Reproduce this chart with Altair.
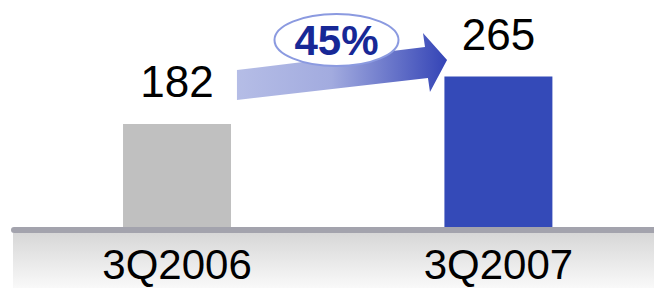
import altair as alt
import pandas as pd

# ---- data ----
categories = ["3Q2006", "3Q2007"]
values = [182, 265]
bar_colors = ["#c0c0c0", "#344ab8"]
growth_label = ["45%"]

df = pd.DataFrame({"quarter": categories, "value": values, "color": bar_colors})
growth_df = pd.DataFrame({"label": growth_label})
one = pd.DataFrame({"k": [0]})

W, H = 646, 280
FONT = "Liberation Sans"

x_scale = alt.Scale(domain=categories, paddingInner=0.664, paddingOuter=0.337, align=0.531)
y_scale = alt.Scale(domain=[-105, 385], nice=False, zero=False)

# gray gradient floor band
band = alt.Chart(one).mark_rect(
    color=alt.LinearGradient(
        gradient="linear",
        stops=[alt.GradientStop(color="#d7d7d7", offset=0),
               alt.GradientStop(color="#f9f9f9", offset=1)],
        x1=0, x2=0, y1=0, y2=1,
    )
).encode(x=alt.value(5), x2=alt.value(W), y=alt.value(225), y2=alt.value(H))

bars = alt.Chart(df).mark_bar().encode(
    x=alt.X("quarter:N", scale=x_scale, axis=None),
    y=alt.Y("value:Q", scale=y_scale, axis=None),
    y2=alt.datum(0),
    color=alt.Color("color:N", scale=None),
)

baseline = alt.Chart(one).mark_rule(
    color="#a3a3ad", strokeWidth=6, strokeCap="round"
).encode(x=alt.value(6), x2=alt.value(W + 10), y=alt.value(222))

value_text = alt.Chart(df).mark_text(
    font=FONT, fontSize=44, baseline="alphabetic", align="center", dy=-27, color="#000000"
).encode(
    x=alt.X("quarter:N", scale=x_scale, axis=None),
    y=alt.Y("value:Q", scale=y_scale, axis=None),
    text=alt.Text("value:Q"),
)

cat_text = alt.Chart(df).mark_text(
    font=FONT, fontSize=42, baseline="alphabetic", align="center", color="#000000"
).encode(
    x=alt.X("quarter:N", scale=x_scale, axis=None),
    y=alt.value(271),
    text=alt.Text("quarter:N"),
)

arrow_path = ("M-0.991,0.038 L0.783,-0.179 L0.764,-0.311 L0.991,-0.057 "
              "L0.830,0.245 L0.811,0.113 L-0.991,0.321 Z")
arrow = alt.Chart(one).mark_point(
    shape=arrow_path, size=212 ** 2, filled=True, opacity=1, strokeWidth=0,
    fill=alt.LinearGradient(
        gradient="linear",
        stops=[alt.GradientStop(color="#b5bde6", offset=0),
               alt.GradientStop(color="#a2abdf", offset=0.45),
               alt.GradientStop(color="#3444b6", offset=1)],
        x1=0, x2=1, y1=0, y2=0,
    ),
).encode(x=alt.value(334), y=alt.value(58))

ellipse_path = ("M-1,0 C-1,-0.232 -0.5523,-0.42 0,-0.42 C0.5523,-0.42 1,-0.232 1,0 "
                "C1,0.232 0.5523,0.42 0,0.42 C-0.5523,0.42 -1,0.232 -1,0 Z")
ellipse = alt.Chart(one).mark_point(
    shape=ellipse_path, size=124 ** 2, filled=True, opacity=1,
    fill="#ffffff", stroke="#8b9ae0", strokeWidth=2, strokeOpacity=1, fillOpacity=1,
).encode(x=alt.value(328.5), y=alt.value(32))

pct = alt.Chart(growth_df).mark_text(
    font=FONT, fontSize=42, fontWeight="bold", baseline="alphabetic", align="center",
    color="#172896",
).encode(x=alt.value(328.5), y=alt.value(47), text="label:N")

chart = alt.layer(
    band, bars, baseline, value_text, cat_text, arrow, ellipse, pct
).properties(
    width=W, height=H, padding=0, autosize=alt.AutoSizeParams(type="none"),
    background="white",
).configure_view(stroke=None)

chart.save("out.html", embed_options={"renderer": "svg", "actions": False})
